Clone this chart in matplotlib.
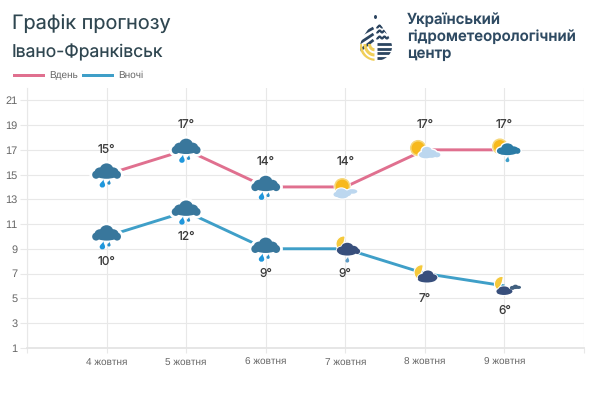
import matplotlib
matplotlib.use("Agg")
import matplotlib.pyplot as plt
import numpy as np
from matplotlib.patches import Circle, Polygon, PathPatch, Ellipse, Rectangle
from matplotlib.path import Path
from matplotlib.transforms import Affine2D

plt.rcParams["text.hinting"] = "no_hinting"
plt.rcParams["text.hinting_factor"] = 1

dates = ["4 жовтня", "5 жовтня", "6 жовтня", "7 жовтня", "8 жовтня", "9 жовтня"]
day_temps = [15, 17, 14, 14, 17, 17]
night_temps = [10, 12, 9, 9, 7, 6]
day_icons = ["rain", "rain", "rain", "sun_cloud_low", "sun_cloud", "sun_rain"]
night_icons = ["rain", "rain", "rain", "moon_rain", "moon_cloud", "moon_small"]
y_ticks = list(range(1, 22, 2))

PINK = "#e0708f"
BLUE = "#3f9fc8"
GRID = "#e8e8e8"

W, H = 594, 395
fig = plt.figure(figsize=(W / 100, H / 100), dpi=100, facecolor="white")
PX = Affine2D().scale(1, -1).translate(0, H)

ax = fig.add_axes([27 / W, (H - 347.7) / H, 557 / W, (347.7 - 88) / H])
ax.set_xlim(-1, 6)
ax.set_ylim(1, 22)
ax.set_xticks(range(-1, 7))
ax.set_xticklabels([""] + dates + [""], fontsize=6.9, color="#666666", family="Liberation Sans")
ax.set_yticks(y_ticks)
ax.set_yticklabels(y_ticks, fontsize=7.6, color="#666666", family="Liberation Sans")
ax.tick_params(axis="y", color=GRID, length=5, width=0.8, pad=2)
ax.tick_params(axis="x", color=GRID, length=3.5, width=0.8, pad=3.5)
ax.grid(True, color=GRID, lw=0.8)
ax.set_axisbelow(True)
for s in ("top", "right"):
    ax.spines[s].set_visible(False)
ax.spines["left"].set_color(GRID)
ax.spines["left"].set_linewidth(0.8)
ax.spines["bottom"].set_color("#e4e4e4")
ax.spines["bottom"].set_linewidth(1.3)
xs = np.arange(len(dates))
ax.plot(xs, day_temps, color=PINK, lw=2.1, zorder=3, solid_capstyle="butt")
ax.plot(xs, night_temps, color=BLUE, lw=2.1, zorder=3, solid_capstyle="butt")


def add(art, z):
    art.set_transform(PX)
    art.set_zorder(z)
    art.set_clip_on(False)
    fig.add_artist(art)


def blobs(cx, cy, parts, color, z=5, halo=2.0):
    for lw, col, zz in ((halo * 2, "white", z), (0, color, z + 0.1)):
        for (dx, dy, rx, ry) in parts:
            add(Ellipse((cx + dx, cy + dy), 2 * rx, 2 * ry, fc=col, ec=col, lw=lw), zz)


def drop(cx, cy, r, color, z=5.5):
    verts = [(cx + 0.45 * r, cy - 2.1 * r), (cx + 0.3 * r, cy - 1.4 * r), (cx + r, cy - 0.6 * r), (cx + r, cy),
             (cx + r, cy + 1.3 * r), (cx - r, cy + 1.3 * r), (cx - r, cy),
             (cx - r, cy - 0.7 * r), (cx + 0.1 * r, cy - 1.3 * r), (cx + 0.45 * r, cy - 2.1 * r)]
    codes = [Path.MOVETO] + [Path.CURVE4] * 9
    add(PathPatch(Path(verts, codes), fc=color, ec="none"), z)


CLOUD = [(0, -4.8, 6.8, 6.4), (-6.5, -2.2, 5.6, 5.0), (6.5, -2.2, 5.6, 5.0), (-10.5, 0.2, 3.9, 4.0),
         (10.5, 0.2, 3.9, 4.0), (0, 0, 11, 4.2)]


def sun(cx, cy, r, z=4.6):
    add(Circle((cx, cy), r + 1.7, fc="white", ec="none"), z)
    add(Circle((cx, cy), r + 1.1, fc="#f6d77a", ec="none"), z + 0.1)
    add(Circle((cx, cy), r - 0.5, fc="#f7b91c", ec="none"), z + 0.2)


def moon(cx, cy, r, z=4.6):
    a = np.radians(np.linspace(-80, -232, 30))
    outer = np.c_[cx + r * np.cos(a), cy + r * np.sin(a)]
    p0, p2 = outer[-1], outer[0]
    ctrl = np.array([cx + 0.1 * r, cy + 0.15 * r])
    t = np.linspace(0, 1, 20)[:, None]
    inner = (1 - t) ** 2 * p0 + 2 * t * (1 - t) * ctrl + t ** 2 * p2
    add(Polygon(np.r_[outer, inner], closed=True, fc="#f5c93c", ec="white", lw=0.8), z)


def icon(kind, x, y):
    if kind == "rain":
        blobs(x, y, CLOUD, "#39779c")
        drop(x - 4.2, y + 10.4, 2.7, "#1f97dc")
        drop(x + 2.4, y + 8.6, 1.6, "#2a8fc8")
    elif kind == "sun_cloud":
        sun(x - 6.8, y - 1.8, 7)
        blobs(x + 1, y + 2, [(1, -1, 5, 4), (6, 2, 5, 4), (0, 3, 7, 3.5), (11, 3, 3.5, 2.5)], "#bcd7ef", halo=1)
    elif kind == "sun_cloud_low":
        sun(x - 3, y - 0.8, 7)
        blobs(x - 3, y + 5.5, [(-1, 0, 5.5, 4), (-5, 2, 3.8, 2.6), (4, 1, 5, 3), (10, -1, 5, 2.3), (0, 3, 6, 3)], "#bcd7ef", halo=0.8)
    elif kind == "sun_rain":
        sun(x - 4.5, y - 3.5, 6.8)
        blobs(x + 2, y, [(1, -2, 6, 4.5), (-4, 1, 5.5, 3.5), (7, 0, 5, 3.5), (11, 1, 3, 3), (1, 2, 10, 3.3)], "#2c7ca6", halo=1)
        drop(x + 3, y + 10.5, 1.9, "#3d9ec9")
    elif kind == "moon_rain":
        moon(x - 1.5, y - 5, 7.8)
        blobs(x + 2, y + 0.5, [(0, -2, 6, 4.5), (-5.5, 1, 5, 3.7), (6, 0.5, 5, 4), (10, 2, 2.8, 2.8), (0, 3, 9, 3.3)], "#384f7c", halo=0.6)
        drop(x + 2, y + 12, 1.9, "#5d9cc6")
    elif kind == "moon_cloud":
        moon(x - 3, y - 1, 7.8)
        blobs(x + 2, y + 3, [(1, -2, 5.5, 4), (-4.5, 1, 4.5, 3.5), (6, 1, 4.5, 3.3), (0, 3, 9, 3)], "#384f7c", halo=0.6)
    else:
        moon(x - 2.5, y - 2, 7.5)
        blobs(x + 0.5, y + 5.5, [(-1, -2, 5.5, 3), (-5, 0, 3.5, 2.6), (3, 0, 4.5, 2.6), (-1, 1, 7, 2.6)], "#384f7c", halo=0.6)
        blobs(x + 11, y + 1, [(0, 0, 2.8, 2.2), (-3, 1, 2.6, 2), (3, 0.5, 2.6, 1.6)], "#42607f", z=4.9, halo=0.6)


fig.canvas.draw()
for temps, kinds, off in ((day_temps, day_icons, -25), (night_temps, night_icons, 25)):
    for xi, t, k in zip(xs, temps, kinds):
        dx, dy = ax.transData.transform((xi, t))
        icon(k, dx, H - dy)
        ax.annotate(f"{t}°", (xi, t), xytext=(0, -off * 0.72), textcoords="offset points", ha="center", va="center",
                    fontsize=8.6, color="#3a3a3a", family="Inter", zorder=6)

# Header
fig.text(12 / W, 1 - 24 / H, "Графік прогнозу", fontsize=14.3, color="#2f4650", family="Inter", va="center")
fig.text(12 / W, 1 - 52 / H, "Івано-Франківськ", fontsize=12.6, color="#2f4650", family="Inter", va="center")

# Legend
for x0, col, lab in ((13, PINK, "Вдень"), (82, BLUE, "Вночі")):
    add(Rectangle((x0, 73.5), 32, 3, fc=col, ec="none"), 3)
    fig.text((x0 + 36) / W, 1 - 75 / H, lab, fontsize=6.9, color="#666666", family="Liberation Sans", va="center")

# Logo
NAVY = "#2c4560"
lv = [(376, 17), (372, 26), (360, 37), (360, 47), (360, 55), (368, 61), (376, 61),
      (384, 61), (392, 55), (392, 47), (392, 37), (380, 26), (376, 17)]
lc = [Path.MOVETO] + [Path.CURVE4] * 12
clip = PathPatch(Path(lv, lc), transform=PX, fc="none", ec="none")
fig.add_artist(clip)


def logo_line(px, py, col, lw, z=2):
    ln = plt.Line2D(px, py, color=col, lw=lw, transform=PX, zorder=z, solid_capstyle="butt")
    fig.add_artist(ln)
    ln.set_clip_on(True)
    ln.set_clip_path(clip.get_path(), PX)


add(Ellipse((375.5, 17), 3, 4, fc=NAVY, ec="none"), 2)
for yy in (44, 48.5, 53, 57.5):
    logo_line([376.5, 394], [yy, yy], NAVY, 2.0)
for yy in (26.5, 31.5, 37.5):
    t = np.linspace(376.5, 394, 30)
    logo_line(t, yy + 1.0 * np.sin((t - 376) * 1.3), NAVY, 1.6)
for b in (24, 30, 36):
    logo_line([373.5, 358], [b + 4, b + 16 - 0.3 * (36 - b)], NAVY, 2.0)
for r0 in (5, 9.5, 14):
    a = np.radians(np.linspace(0, 90, 20))
    logo_line(374.5 - r0 * np.cos(a), 44 + r0 * np.sin(a) * 1.15, "#f0cf5a", 2.2)
for i, line in enumerate(["Український", "гідрометеорологічний", "центр"]):
    fig.text(407 / W, 1 - (20 + 17 * i) / H, line, fontsize=10.8, color="#2e4a62", family="Inter", weight="semibold", va="center")

fig.savefig("out.png", dpi=100, facecolor="white")
